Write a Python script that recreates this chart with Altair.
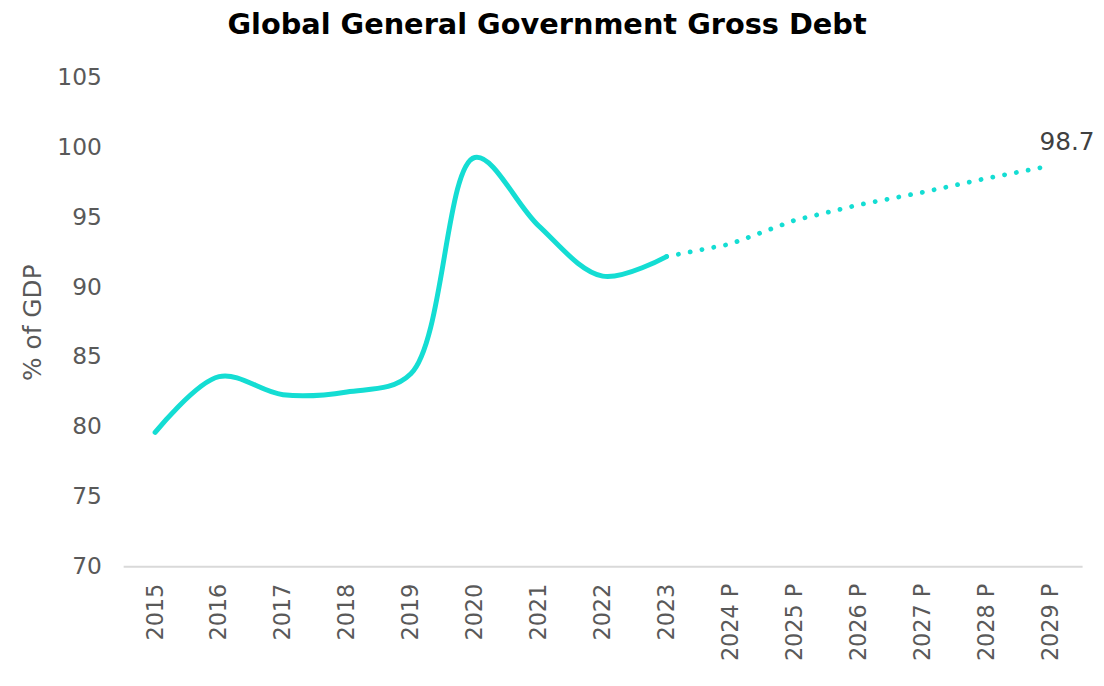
import altair as alt
import pandas as pd

years = ["2015", "2016", "2017", "2018", "2019", "2020", "2021", "2022", "2023",
         "2024 P", "2025 P", "2026 P", "2027 P", "2028 P", "2029 P"]
debt = [79.6, 83.6, 82.3, 82.5, 83.8, 99.3, 94.4, 90.8, 92.2,
        93.1, 94.8, 95.9, 96.8, 97.8, 98.7]
actual_count = 9  # 2015-2023 are actual, rest projected
end_label = "98.7"

COLOR = "#14DDD3"
FONT = "DejaVu Sans"
GRAY = "#595959"

df = pd.DataFrame({"year": years, "debt": debt})
df_actual = df.iloc[:actual_count]
df_proj = df.iloc[actual_count - 1:]
df_end = df.iloc[[-1]].assign(label=end_label)

x_enc = alt.X("year:N", sort=years,
              scale=alt.Scale(type="point", padding=0.5),
              axis=alt.Axis(title=None, labelAngle=-90, labelFontSize=22.5,
                            labelColor=GRAY, labelFont=FONT, labelPadding=17,
                            ticks=False, domainColor="#D9D9D9", domainWidth=2,
                            grid=False))
y_enc = alt.Y("debt:Q",
              scale=alt.Scale(domain=[70, 105], nice=False, zero=False),
              axis=alt.Axis(title="% of GDP", values=[70, 75, 80, 85, 90, 95, 100, 105],
                            labelFontSize=23.5, labelColor=GRAY, labelFont=FONT,
                            labelPadding=22, titleFontSize=25, titleColor=GRAY,
                            titleFont=FONT, titleFontWeight="normal", titlePadding=11,
                            ticks=False, domain=False, grid=False))

solid = alt.Chart(df_actual).mark_line(
    color=COLOR, strokeWidth=5, interpolate="catmull-rom", strokeCap="round"
).encode(x=x_enc, y=y_enc)

dotted = alt.Chart(df_proj).mark_line(
    color=COLOR, strokeWidth=4.8, strokeCap="round", strokeDash=[0.1, 12]
).encode(x=x_enc, y=y_enc)

label = alt.Chart(df_end).mark_text(
    font=FONT, fontSize=25, color="#404040", align="center", baseline="middle",
    dx=17, dy=-24
).encode(x=x_enc, y=y_enc, text="label:N")

chart = alt.layer(solid, dotted, label).properties(
    width=966, height=492,
    title=alt.TitleParams("Global General Government Gross Debt", font=FONT,
                          fontSize=29, fontWeight="bold", color="#000000",
                          anchor="middle", dx=-56, offset=26),
    autosize=alt.AutoSizeParams(type="none"),
    padding={"left": 116, "top": 68, "right": 14, "bottom": 110},
).configure_view(stroke=None)

chart.save("out.html", embed_options={"renderer": "svg", "actions": False})
